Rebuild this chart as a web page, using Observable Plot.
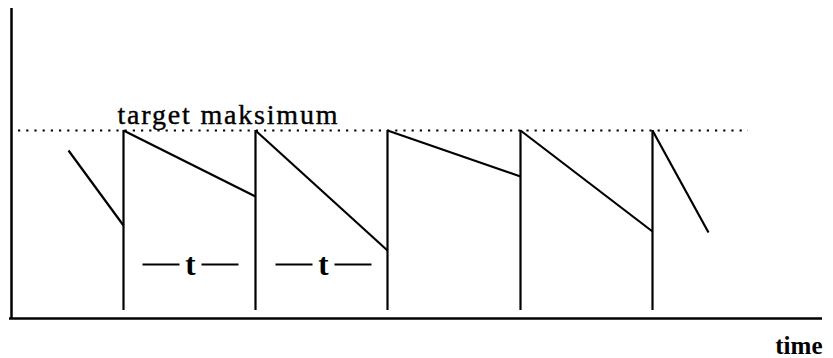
<!DOCTYPE html>
<html>
<head>
<meta charset="utf-8">
<script src="https://cdn.jsdelivr.net/npm/d3@7"></script>
<script src="https://cdn.jsdelivr.net/npm/@observablehq/plot@0.6"></script>
<style>
  html, body { margin: 0; padding: 0; background: #fff; }
  #chart svg { display: block; }
</style>
</head>
<body>
<div id="chart"></div>
<script>
// ---- data (arbitrary units) ----
const declineStartX = [57, 112, 244, 376, 509, 641];
const declineStartY = [168, 188, 188, 188, 188, 188];
const declineEndX   = [112, 244, 376, 509, 641, 697];
const declineEndY   = [93, 122, 68, 142, 87, 86];
const orderTimes    = [112, 244, 376, 509, 641];
const orderFloor    = 8;
const targetMax     = 188;
const targetSpan    = [7, 737];
const targetLabel   = "target maksimum";
const targetLabelX  = 106;
const periodCenters = [179, 312];
const periodLabel   = "t";
const periodLevel   = 53;
const timeLabel     = "time";

const declines = declineStartX.map((x, i) => ({x1: x, y1: declineStartY[i], x2: declineEndX[i], y2: declineEndY[i]}));
const dashes = periodCenters.flatMap(c => [{x1: c - 48, x2: c - 11}, {x1: c + 11, x2: c + 48}]);

const chart = Plot.plot({
  width: 833,
  height: 358,
  marginLeft: 11,
  marginRight: 11,
  marginTop: 10,
  marginBottom: 40,
  x: {domain: [0, 811], axis: null},
  y: {domain: [0, 308], axis: null},
  style: {fontFamily: "'Liberation Serif', serif", color: "#000", background: "#fff"},
  marks: [
    // dotted target line
    Plot.ruleY([targetMax], {x1: targetSpan[0], x2: targetSpan[1], stroke: "#000", strokeWidth: 2.2, strokeDasharray: "2.2,6"}),
    // replenishment verticals
    Plot.ruleX(orderTimes, {y1: orderFloor, y2: targetMax, stroke: "#000", strokeWidth: 2.2}),
    // consumption declines
    Plot.link(declines, {x1: "x1", y1: "y1", x2: "x2", y2: "y2", stroke: "#000", strokeWidth: 2.2}),
    // period markers
    Plot.link(dashes, {x1: "x1", x2: "x2", y1: periodLevel + 1, y2: periodLevel + 1, stroke: "#000", strokeWidth: 2.2}),
    Plot.text(periodCenters, {x: d => d, y: periodLevel, text: () => periodLabel, fontSize: 31, fontWeight: "bold", lineAnchor: "middle", fill: "#000"}),
    // axes
    Plot.ruleX([0], {y1: 0, y2: 310, stroke: "#000", strokeWidth: 2.5}),
    Plot.ruleY([0], {x1: -2, x2: 811, stroke: "#000", strokeWidth: 2.5}),
    // labels
    Plot.text([targetLabel], {x: targetLabelX, y: targetMax + 7, text: d => d, textAnchor: "start", lineAnchor: "bottom", fontSize: 28, fill: "#000", stroke: "#000", strokeWidth: 0.4}),
    Plot.text([timeLabel], {x: 811, y: -35, text: d => d, textAnchor: "end", lineAnchor: "bottom", fontSize: 25, fontWeight: "bold", fill: "#000"})
  ]
});

// stretch the target label to its measured width
d3.select(chart).selectAll("text").each(function() {
  if (this.textContent === targetLabel) {
    this.setAttribute("textLength", 220);
    this.setAttribute("lengthAdjust", "spacing");
  }
});

document.getElementById("chart").appendChild(chart);
</script>
</body>
</html>
